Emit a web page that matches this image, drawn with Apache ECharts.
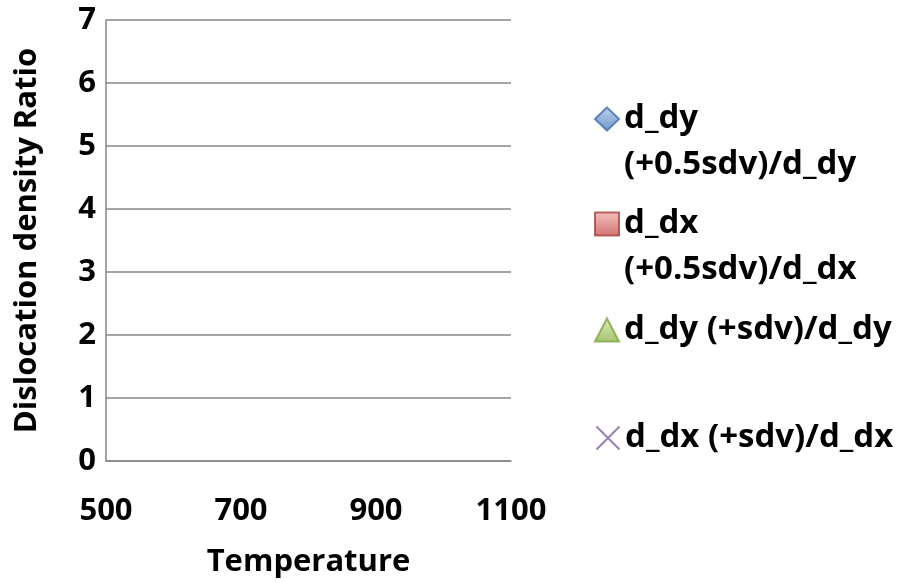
<!DOCTYPE html>
<html>
<head>
<meta charset="utf-8">
<script src="https://cdn.jsdelivr.net/npm/echarts@6/dist/echarts.min.js"></script>
<style>
  html, body { margin: 0; padding: 0; background: #fff; }
  #chart { width: 900px; height: 583px; }
</style>
</head>
<body>
<div id="chart"></div>
<script>
// Axis ticks
const xTicks = [500, 700, 900, 1100];
const yTicks = [0, 1, 2, 3, 4, 5, 6, 7];

// Series names (legend entries)
const seriesNames = [
  'd_dy\n(+0.5sdv)/d_dy',
  'd_dx\n(+0.5sdv)/d_dx',
  'd_dy (+sdv)/d_dy',
  'd_dx (+sdv)/d_dx'
];

// Series values as [temperature, ratio] pairs (no points are plotted)
const dyHalfSdv = [];
const dxHalfSdv = [];
const dySdv = [];
const dxSdv = [];

const FONT = 'Open Sans';
const grad = (a, b) => ({
  type: 'linear', x: 0, y: 0, x2: 0, y2: 1,
  colorStops: [{ offset: 0, color: a }, { offset: 1, color: b }]
});

const chart = echarts.init(document.getElementById('chart'), null, { renderer: 'canvas' });

const legendText = {
  fontFamily: FONT, fontWeight: 'bold', fontSize: 33, color: '#000', lineHeight: 46
};

// Wrapped names get a leading empty line so the icon sits beside the first line
const legendFormatter = (name) => (name.indexOf('\n') >= 0 ? '\n' + name : name);

const legendBase = {
  orient: 'vertical', left: 594, padding: 0,
  itemWidth: 24, itemHeight: 23, selectedMode: false,
  formatter: legendFormatter, textStyle: legendText
};

chart.setOption({
  animation: false,
  backgroundColor: '#fff',
  grid: { left: 106, right: 389, top: 20, bottom: 121 },
  xAxis: {
    type: 'value', min: xTicks[0], max: xTicks[xTicks.length - 1], interval: 200,
    name: 'Temperature', nameLocation: 'middle', nameGap: 86,
    nameTextStyle: { fontFamily: FONT, fontWeight: 'bold', fontSize: 31, color: '#000' },
    axisLine: { show: true, lineStyle: { color: '#878787', width: 1.5 } },
    axisTick: { show: false },
    splitLine: { show: false },
    axisLabel: {
      margin: 35, fontFamily: FONT, fontWeight: 'bold', fontSize: 31, color: '#000',
      formatter: (v) => String(v)
    }
  },
  yAxis: {
    type: 'value', min: yTicks[0], max: yTicks[yTicks.length - 1], interval: 1,
    name: 'Dislocation density Ratio', nameLocation: 'middle', nameGap: 63,
    nameTextStyle: { fontFamily: FONT, fontWeight: 'bold', fontSize: 31, color: '#000' },
    axisLine: { show: true, lineStyle: { color: '#878787', width: 1.5 } },
    axisTick: { show: false },
    splitLine: { show: true, lineStyle: { color: '#878787', width: 1.5 } },
    axisLabel: { margin: 10, fontFamily: FONT, fontWeight: 'bold', fontSize: 31, color: '#000' }
  },
  legend: [
    Object.assign({}, legendBase, { top: 50, data: [seriesNames[0]] }),
    Object.assign({}, legendBase, { top: 155, data: [seriesNames[1]] }),
    Object.assign({}, legendBase, { top: 307, data: [seriesNames[2]] }),
    Object.assign({}, legendBase, { top: 415, data: [seriesNames[3]] })
  ],
  series: [
    {
      name: seriesNames[0], type: 'scatter', symbol: 'diamond', symbolSize: 12,
      itemStyle: { color: grad('#b0c8ea', '#4a7cc0'), borderColor: '#3f6ea8', borderWidth: 1 },
      data: dyHalfSdv
    },
    {
      name: seriesNames[1], type: 'scatter', symbol: 'rect', symbolSize: 12,
      itemStyle: { color: grad('#f2b3b1', '#c8504d'), borderColor: '#a83e3b', borderWidth: 1 },
      data: dxHalfSdv
    },
    {
      name: seriesNames[2], type: 'scatter', symbol: 'triangle', symbolSize: 12,
      itemStyle: { color: grad('#d4e8a6', '#8fb54a'), borderColor: '#7fa440', borderWidth: 1 },
      data: dySdv
    },
    {
      name: seriesNames[3], type: 'scatter', symbol: 'path://M0,0L10,10M10,0L0,10', symbolSize: 12,
      itemStyle: { color: 'none', borderColor: '#8064A2', borderWidth: 1.5 },
      data: dxSdv
    }
  ]
});
</script>
</body>
</html>
